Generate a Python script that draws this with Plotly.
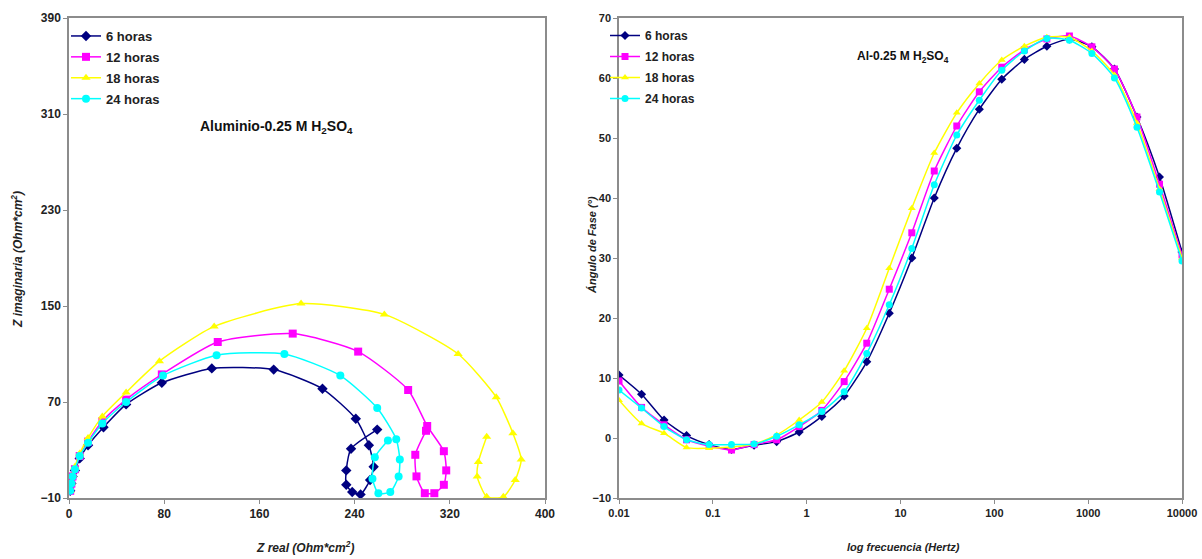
import plotly.graph_objects as go

# ---- Nyquist data (Z real, Z imaginaria) in Ohm*cm2 ----
zr_6h = [1, 2, 3, 5, 9, 16, 29, 48, 78, 120, 172, 213, 241, 252, 256, 253, 245, 238, 233, 233, 237, 259]
zi_6h = [-4, 2, 8, 13, 23, 34, 49, 68, 86, 98, 97, 81, 56, 34, 16, 5, -7, -5, 1, 13, 31, 47]

zr_12h = [1, 2, 3, 5, 9, 16, 28, 48, 78, 125, 188, 243, 285, 301, 315, 317, 315, 307, 299, 292, 291, 300]
zi_12h = [-4, 2, 8, 14, 25, 37, 54, 72, 93, 120, 127, 112, 80, 50, 29, 13, 1, -6, -6, 8, 26, 46]

zr_18h = [1, 2, 3, 5, 9, 16, 28, 48, 76, 122, 195, 265, 327, 359, 373, 380, 375, 365, 351, 343, 344, 351]
zi_18h = [-4, 3, 9, 16, 27, 40, 58, 78, 104, 133, 152, 143, 110, 74, 44, 22, 5, -9, -9, 8, 20, 41]

zr_24h = [1, 2, 3, 5, 9, 16, 28, 48, 79, 124, 181, 228, 259, 275, 278, 277, 270, 260, 255, 257, 268]
zi_24h = [-4, 2, 8, 14, 25, 36, 52, 70, 92, 109, 110, 92, 65, 39, 22, 8, -5, -6, 6, 24, 38]

# ---- Bode phase data ----
freq_hz = [0.01, 0.0174, 0.0302, 0.0525, 0.0912, 0.158, 0.275, 0.479, 0.832, 1.45,
           2.51, 4.37, 7.59, 13.2, 22.9, 39.8, 69.2, 120, 209, 363,
           631, 1096, 1905, 3311, 5754, 10000]
fase_6h = [10.5, 7.3, 3.0, 0.4, -1.1, -1.9, -1.2, -0.6, 1.0, 3.6,
           7.0, 12.7, 20.8, 30.0, 40.0, 48.3, 54.8, 59.8, 63.1, 65.3,
           66.5, 65.2, 61.5, 53.5, 43.5, 31.0]
fase_12h = [9.5, 5.1, 2.2, -0.3, -1.35, -2.0, -1.1, -0.3, 1.9, 4.6,
            9.4, 15.8, 24.8, 34.2, 44.5, 52.0, 57.7, 61.8, 64.7, 66.5,
            67.0, 65.2, 61.5, 53.5, 42.3, 30.5]
fase_18h = [6.3, 2.4, 0.8, -1.6, -1.7, -1.5, -1.0, 0.5, 3.0, 6.0,
            11.2, 18.3, 28.3, 38.3, 47.5, 54.2, 59.1, 63.0, 65.3, 66.8,
            66.8, 64.5, 60.5, 52.5, 41.5, 30.0]
fase_24h = [8.0, 5.0, 1.9, -0.3, -1.1, -1.1, -1.0, 0.3, 2.2, 4.4,
            7.7, 14.1, 22.2, 31.6, 42.2, 50.5, 56.3, 61.3, 64.5, 66.6,
            66.3, 64.1, 60.0, 51.8, 41.0, 29.5]

labels = ["6 horas", "12 horas", "18 horas", "24 horas"]
colors = ["#000080", "#FF00FF", "#FFFF00", "#00FFFF"]
symbols = ["diamond", "square", "triangle-up", "circle"]

FONT = "Liberation Sans, Arial, sans-serif"
W, H = 1202, 559

fig = go.Figure()

nyq = [(zr_6h, zi_6h), (zr_12h, zi_12h), (zr_18h, zi_18h), (zr_24h, zi_24h)]
for (zr, zi), name, col, sym in zip(nyq, labels, colors, symbols):
    fig.add_trace(go.Scatter(
        x=zr, y=zi, name=name, mode="lines+markers",
        line=dict(color=col, width=1.5, shape="spline", smoothing=0.6),
        marker=dict(symbol=sym, size=8, color=col),
        xaxis="x", yaxis="y", legend="legend", legendgroup="nyq_" + name))

bode = [fase_6h, fase_12h, fase_18h, fase_24h]
for ph, name, col, sym in zip(bode, labels, colors, symbols):
    fig.add_trace(go.Scatter(
        x=freq_hz, y=ph, name=name, mode="lines+markers",
        line=dict(color=col, width=1.5, shape="spline", smoothing=0.6),
        marker=dict(symbol=sym, size=7, color=col),
        xaxis="x2", yaxis="y2", legend="legend2", legendgroup="bode_" + name))


def axis_style(size):
    return dict(
        showline=True, linecolor="#8c8c8c", linewidth=1.5, mirror=True,
        ticks="outside", ticklen=4, tickcolor="#8c8c8c",
        showgrid=False, zeroline=False, automargin=False,
        tickfont=dict(family=FONT, size=size, color="#222", weight="bold"),
    )


y_dom = [1 - 498 / H, 1 - 18 / H]

fig.update_layout(
    width=W, height=H,
    margin=dict(l=0, r=0, t=0, b=0, autoexpand=False),
    paper_bgcolor="white", plot_bgcolor="white",
    showlegend=True,
    xaxis=dict(domain=[69 / W, 545 / W], range=[0, 400], dtick=80, tick0=0,
               anchor="y", **axis_style(12)),
    yaxis=dict(domain=y_dom, range=[-10, 390], dtick=80, tick0=-10,
               anchor="x", **axis_style(12)),
    xaxis2=dict(domain=[619 / W, 1182 / W], type="log", range=[-2, 4],
                tickvals=[0.01, 0.1, 1, 10, 100, 1000, 10000],
                ticktext=["0.01", "0.1", "1", "10", "100", "1000", "10000"],
                anchor="y2", **axis_style(11)),
    yaxis2=dict(domain=y_dom, range=[-10, 70], dtick=10,
                anchor="x2", **axis_style(11)),
    legend=dict(x=66 / W, y=1 - 21 / H, xanchor="left", yanchor="top",
                bgcolor="rgba(0,0,0,0)", font=dict(family=FONT, size=13, color="#222", weight="bold"),
                tracegroupgap=1, itemwidth=30),
    legend2=dict(x=605 / W, y=1 - 21 / H, xanchor="left", yanchor="top",
                 bgcolor="rgba(0,0,0,0)", font=dict(family=FONT, size=12, color="#222", weight="bold"),
                 tracegroupgap=2, itemwidth=30),
)

annotations = [
    dict(text="<b>Aluminio-0.25 M H<sub>2</sub>SO<sub>4</sub></b>", x=276 / W, y=1 - 127 / H,
         font=dict(family=FONT, size=14, color="#111")),
    dict(text="<b>Al-0.25 M H<sub>2</sub>SO<sub>4</sub></b>", x=903 / W, y=1 - 57 / H,
         font=dict(family=FONT, size=12, color="#111")),
    dict(text="<i><b>Z imaginaria (Ohm*cm<sup>2</sup>)</b></i>", x=17 / W, y=1 - 260 / H,
         textangle=-90, font=dict(family=FONT, size=12, color="#222")),
    dict(text="<i><b>Z real (Ohm*cm<sup>2</sup>)</b></i>", x=305 / W, y=1 - 547 / H,
         font=dict(family=FONT, size=12, color="#222")),
    dict(text="<i><b>Ángulo de Fase (°)</b></i>", x=592 / W, y=1 - 245 / H,
         textangle=-90, font=dict(family=FONT, size=11, color="#222")),
    dict(text="<i><b>log frecuencia (Hertz)</b></i>", x=903 / W, y=1 - 547 / H,
         font=dict(family=FONT, size=11, color="#222")),
]
for a in annotations:
    a.update(xref="paper", yref="paper", showarrow=False, xanchor="center", yanchor="middle")
fig.update_layout(annotations=annotations)

fig.write_html("out.html")
